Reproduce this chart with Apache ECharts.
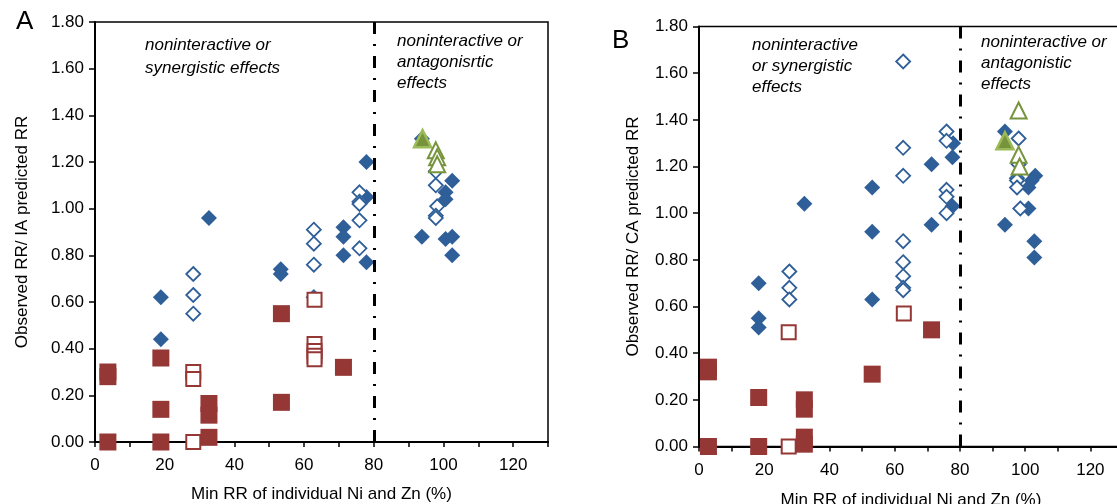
<!DOCTYPE html>
<html>
<head>
<meta charset="utf-8">
<script src="https://cdn.jsdelivr.net/npm/echarts@6/dist/echarts.min.js"></script>
<style>
html,body{margin:0;padding:0;background:#fff;}
#chart{width:1117px;height:504px;}
</style>
</head>
<body>
<div id="chart"></div>
<script>
// ---------- Data (x = Min RR of individual Ni and Zn (%), y = ratio) ----------
// Panel A: Observed RR / IA predicted RR
const aBlueFilled = [[18.9,0.62],[18.9,0.44],[32.7,0.96],[53.3,0.74],[53.3,0.72],[71.3,0.92],[71.3,0.88],[71.3,0.80],[77.9,1.20],[77.9,1.05],[77.9,0.77],[93.8,1.30],[93.8,0.88],[100.6,1.07],[100.6,1.04],[100.6,0.87],[102.5,1.12],[102.5,0.88],[102.5,0.80]];
const aBlueOpen = [[28.2,0.72],[28.2,0.63],[28.2,0.55],[62.8,0.91],[62.8,0.85],[62.8,0.76],[62.8,0.62],[75.9,1.07],[75.9,1.03],[75.9,1.02],[75.9,0.95],[75.9,0.83],[97.8,1.16],[97.8,1.10],[98.2,1.01],[97.8,0.97],[97.8,0.96]];
const aRedFilled = [[3.7,0.30],[3.7,0.28],[3.7,0.00],[18.9,0.36],[18.9,0.14],[18.9,0.00],[32.7,0.165],[32.7,0.115],[32.7,0.02],[53.5,0.55],[53.5,0.17],[71.3,0.32]];
const aRedOpen = [[28.2,0.30],[28.2,0.27],[28.2,0.00],[63,0.61],[63,0.42],[63,0.39],[63,0.37],[63,0.355]];
const aGreenFilled = [[94,1.30]];
const aGreenOpen = [[97.8,1.25],[98.2,1.22],[98.2,1.19]];

// Panel B: Observed RR / CA predicted RR
const bBlueFilled = [[18.3,0.70],[18.3,0.55],[18.3,0.51],[32.3,1.04],[53.1,1.11],[53.1,0.92],[53.1,0.63],[71.3,1.21],[71.3,0.95],[77.9,1.30],[77.7,1.24],[77.7,1.03],[93.8,1.35],[93.8,0.95],[101,1.11],[101,1.02],[103.1,1.16],[102,1.14],[102.8,0.88],[102.8,0.81]];
const bBlueOpen = [[27.7,0.75],[27.7,0.68],[27.7,0.63],[62.6,1.65],[62.6,1.28],[62.6,1.16],[62.6,0.88],[62.6,0.79],[62.6,0.73],[62.6,0.68],[62.6,0.67],[75.9,1.35],[75.9,1.31],[75.9,1.10],[75.9,1.07],[75.9,1.00],[98,1.32],[98,1.21],[97.5,1.15],[97.5,1.14],[97.5,1.11],[98.5,1.02]];
const bRedFilled = [[2.9,0.34],[2.9,0.32],[2.9,0.00],[18.3,0.21],[18.3,0.00],[32.3,0.20],[32.3,0.16],[32.3,0.04],[32.3,0.01],[53.1,0.31],[71.3,0.50]];
const bRedOpen = [[27.5,0.49],[27.5,0.00],[62.8,0.57]];
const bGreenFilled = [[93.8,1.31]];
const bGreenOpen = [[98,1.44],[98,1.25],[98.3,1.20]];

// Axis settings / labels
const xMin = 0, xMax = 130, xStep = 10, xLabelStep = 20;
const yMin = 0, yMax = 1.8, yStep = 0.2;
const xName = 'Min RR of individual Ni and Zn (%)';
const yNameA = 'Observed RR/ IA predicted RR';
const yNameB = 'Observed RR/ CA predicted RR';
const threshold = 80;
const notes = {
  aLeft: 'noninteractive or\nsynergistic effects',
  aRight: 'noninteractive or\nantagonisrtic\neffects',
  bLeft: 'noninteractive\nor synergistic\neffects',
  bRight: 'noninteractive or\nantagonistic\neffects'
};

// ---------- Styles ----------
const FONT = '"Liberation Sans", Arial, sans-serif';
const BLUE = '#2F5F98', RED = '#953735', GREEN = '#9BBB59', GREEN_D = '#77933C';
const FS = 17;

function xAxisCfg(gridIndex, gap) {
  return {
    gridIndex, type: 'value', position: 'bottom', min: xMin, max: xMax, interval: xStep,
    name: xName, nameLocation: 'middle', nameGap: gap,
    nameTextStyle: {fontFamily: FONT, fontSize: FS, color: '#000'},
    axisLine: {show: true, onZero: false, lineStyle: {color: '#000', width: 2}},
    axisTick: {show: true, length: 5, lineStyle: {color: '#000', width: 1.5}},
    axisLabel: {fontFamily: FONT, fontSize: FS, color: '#000', margin: 15,
      formatter: v => (v % xLabelStep === 0 ? String(v) : '')},
    splitLine: {show: false}
  };
}
function yAxisCfg(gridIndex, name, gap) {
  return {
    gridIndex, type: 'value', position: 'left', min: yMin, max: yMax, interval: yStep,
    name, nameLocation: 'middle', nameGap: gap,
    nameTextStyle: {fontFamily: FONT, fontSize: FS, color: '#000'},
    axisLine: {show: true, onZero: false, lineStyle: {color: '#000', width: 2}},
    axisTick: {show: true, length: 6, lineStyle: {color: '#000', width: 1.5}},
    axisLabel: {fontFamily: FONT, fontSize: FS, color: '#000', margin: 11,
      formatter: v => v.toFixed(2)},
    splitLine: {show: false}
  };
}
function sc(data, idx, symbol, size, fill, border, bw, z) {
  return {
    type: 'scatter', xAxisIndex: idx, yAxisIndex: idx, data, symbol, symbolSize: size,
    itemStyle: {color: fill, borderColor: border, borderWidth: bw, opacity: 1},
    emphasis: {disabled: true}, z: z || 3
  };
}
function divider(idx) {
  return {
    type: 'scatter', xAxisIndex: idx, yAxisIndex: idx, data: [], z: 1,
    markLine: {
      silent: true, symbol: ['none', 'none'], label: {show: false},
      lineStyle: {color: '#000', width: 3, type: [12, 10, 2, 10]},
      data: [{xAxis: threshold}]
    }
  };
}
function panelSeries(idx, bf, bo, rf, ro, gf, go) {
  return [
    divider(idx),
    sc(bf, idx, 'diamond', 16, BLUE, BLUE, 0, 3),
    sc(bo, idx, 'diamond', 14, '#fff', BLUE, 1.8, 3),
    sc(rf, idx, 'rect', 17, RED, RED, 0, 4),
    sc(ro, idx, 'rect', 14, '#fff', RED, 2, 4),
    sc(gf, idx, 'triangle', 17, GREEN_D, GREEN, 2.5, 5),
    sc(go, idx, 'triangle', 16, '#fff', GREEN_D, 2, 5)
  ];
}
function note(text, left, top, lh) {
  return {type: 'text', left, top, z: 10,
    style: {text, fontFamily: FONT, fontSize: FS, fontStyle: 'italic', fill: '#000', lineHeight: lh}};
}

const chart = echarts.init(document.getElementById('chart'), null, {renderer: 'canvas'});
chart.setOption({
  animation: false,
  backgroundColor: '#fff',
  grid: [
    {left: 95, top: 22, width: 453, height: 420, show: true, borderColor: '#000', borderWidth: 1.5, backgroundColor: 'transparent', containLabel: false, outerBoundsMode: 'none'},
    {left: 699, top: 26.5, width: 424, height: 420, show: true, borderColor: '#000', borderWidth: 1.5, backgroundColor: 'transparent', containLabel: false, outerBoundsMode: 'none'}
  ],
  xAxis: [xAxisCfg(0, 44), xAxisCfg(1, 45)],
  yAxis: [yAxisCfg(0, yNameA, 64), yAxisCfg(1, yNameB, 57)],
  series: [].concat(
    panelSeries(0, aBlueFilled, aBlueOpen, aRedFilled, aRedOpen, aGreenFilled, aGreenOpen),
    panelSeries(1, bBlueFilled, bBlueOpen, bRedFilled, bRedOpen, bGreenFilled, bGreenOpen)
  ),
  graphic: [
    {type: 'text', left: 16, top: 9, style: {text: 'A', fontFamily: FONT, fontSize: 26, fill: '#000'}},
    {type: 'text', left: 612, top: 28, style: {text: 'B', fontFamily: FONT, fontSize: 26, fill: '#000'}},
    note(notes.aLeft, 145, 34, 23),
    note(notes.aRight, 397, 31, 21),
    note(notes.bLeft, 752, 35, 21),
    note(notes.bRight, 981, 32, 21)
  ]
});
</script>
</body>
</html>
